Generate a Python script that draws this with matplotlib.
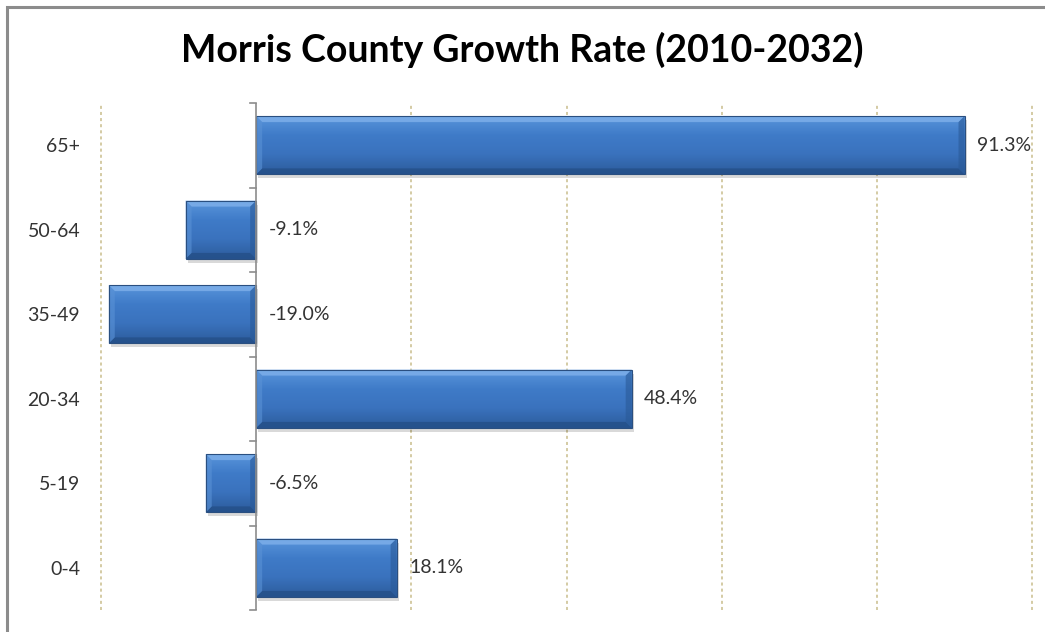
import numpy as np
import matplotlib
matplotlib.use('Agg')
import matplotlib.pyplot as plt
from matplotlib.patches import Rectangle, Polygon
from matplotlib.colors import LinearSegmentedColormap

plt.rcParams['font.family'] = ['Lato', 'DejaVu Sans']

### data
age_groups = ['0-4', '5-19', '20-34', '35-49', '50-64', '65+']
growth = [18.1, -6.5, 48.4, -19.0, -9.1, 91.3]
grid_ticks = [-20, 20, 40, 60, 80, 100]

fig = plt.figure(figsize=(10.45, 6.32), dpi=100)
ax = fig.add_axes([101/1045, 1 - 610/632, (1032 - 101)/1045, (610 - 103)/632])

# outer frame (only top/left edge shows in the original)
fig.patches.append(Rectangle((7/1045, -0.05), 1.2, 1 - 7/632 + 0.05, transform=fig.transFigure,
                             fill=False, edgecolor='#8c8c8c', linewidth=2.2))

y = np.arange(len(age_groups))
bar_h = 0.69

ax.set_xlim(-20, 100)
ax.set_ylim(-0.5, len(age_groups) - 0.5)

# dotted gridlines
for g in grid_ticks:
    ax.axvline(g, color='#c9bd8c', linestyle=(0, (2, 2)), linewidth=1.1, zorder=0, clip_on=False)

# value axis at zero with tick marks between categories
ax.axvline(0, color='#8c8c8c', linewidth=1.2, zorder=3)
for b in np.arange(-0.5, len(age_groups), 1.0):
    ax.plot([-0.8, 0], [b, b], color='#8c8c8c', linewidth=1.2, zorder=3, clip_on=False)

grad = LinearSegmentedColormap.from_list('bev', ['#2c5c9c', '#3a72bd', '#3f7bc8', '#5a96dc'])

bars = ax.barh(y, growth, height=bar_h, color='#3b74c0', zorder=2)
px = 120 / 931.0  # data units per pixel (x)
py = 6 / 507.0    # data units per pixel (y)
for rect in bars:
    x0 = rect.get_x()
    w = rect.get_width()
    yb = rect.get_y()
    h = rect.get_height()
    # shadow
    ax.add_patch(Rectangle((x0 + 2 * px, yb - 4 * py), w, h, color='#000000', alpha=0.15,
                           zorder=1, linewidth=0))
    # vertical gradient
    im = ax.imshow(np.linspace(0, 1, 50).reshape(-1, 1), cmap=grad, aspect='auto',
                   extent=[x0, x0 + w, yb, yb + h], origin='lower', zorder=2)
    im.set_clip_path(rect)
    # bevels
    bx, by = 6 * px, 6 * py
    xl, xr = min(x0, x0 + w), max(x0, x0 + w)
    ax.add_patch(Polygon([[xl, yb + h], [xr, yb + h], [xr - bx, yb + h - by], [xl + bx, yb + h - by]],
                         closed=True, color='#7fb0ea', alpha=0.8, zorder=2.5, linewidth=0))
    ax.add_patch(Polygon([[xl, yb], [xr, yb], [xr - bx, yb + by], [xl + bx, yb + by]],
                         closed=True, color='#244f88', alpha=0.8, zorder=2.5, linewidth=0))
    ax.add_patch(Polygon([[xl, yb], [xl, yb + h], [xl + bx, yb + h - by], [xl + bx, yb + by]],
                         closed=True, color='#5a92d6', alpha=0.6, zorder=2.5, linewidth=0))
    ax.add_patch(Polygon([[xr, yb], [xr, yb + h], [xr - bx, yb + h - by], [xr - bx, yb + by]],
                         closed=True, color='#2a5a98', alpha=0.6, zorder=2.5, linewidth=0))
    ax.add_patch(Rectangle((xl, yb), xr - xl, h, fill=False, edgecolor='#2a4f80',
                           linewidth=0.8, zorder=2.6))

# data labels
for yi, v in zip(y, growth):
    ax.text(max(v, 0) + 1.6, yi, f'{v:.1f}%', va='center', ha='left',
            fontsize=14, color='#333333', zorder=4)

ax.set_yticks(y)
ax.set_yticklabels(age_groups, fontsize=14, color='#333333')
ax.tick_params(axis='y', length=0, pad=15)
ax.set_xticks([])
for s in ax.spines.values():
    s.set_visible(False)

fig.text(0.5, 1 - 50/632, 'Morris County Growth Rate (2010-2032)', ha='center', va='center',
         fontsize=27, fontweight='bold', color='#000000')

fig.savefig('out.png', dpi=100)
